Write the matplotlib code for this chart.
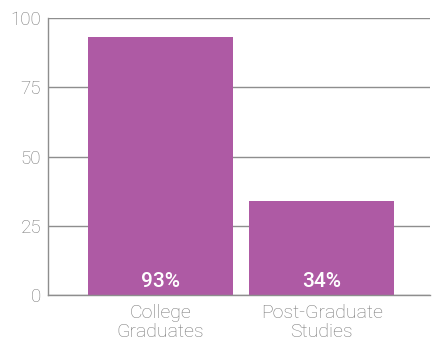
import matplotlib
matplotlib.use("Agg")
import matplotlib.pyplot as plt

categories = ["College\nGraduates", "Post-Graduate\nStudies"]
values = [93, 34]
value_labels = ["93%", "34%"]
yticks = [0, 25, 50, 75, 100]

bar_color = "#ae5aa4"
grid_color = "#8e8e8e"
text_color = "#777777"

plt.rcParams["font.family"] = ["Roboto", "DejaVu Sans"]

fig = plt.figure(figsize=(4.42, 3.44), dpi=100)
ax = fig.add_axes([0.1086, 0.141, 0.8644, 0.808])

x = list(range(len(categories)))
ax.bar(x, values, width=0.9, color=bar_color, zorder=2)

for xi, lab in zip(x, value_labels):
    ax.text(xi, 5, lab, ha="center", va="center", color="white",
            fontsize=15, fontweight="medium", zorder=3)

ax.set_ylim(0, 100)
ax.set_xlim(-0.7, 1.674)
ax.set_yticks(yticks)
ax.set_yticklabels([str(t) for t in yticks], fontsize=13.5,
                   color=text_color, fontweight="light")
ax.set_xticks(x)
ax.set_xticklabels(categories, fontsize=14, color=text_color,
                   fontweight="light", linespacing=1.1)

ax.tick_params(axis="both", length=0)
ax.tick_params(axis="y", pad=5)
ax.tick_params(axis="x", pad=6)

ax.yaxis.grid(True, color=grid_color, linewidth=1.0, zorder=0)
ax.set_axisbelow(True)

for side in ["top", "right"]:
    ax.spines[side].set_visible(False)
ax.spines["left"].set_color(grid_color)
ax.spines["bottom"].set_color(grid_color)
ax.spines["left"].set_linewidth(1.0)
ax.spines["bottom"].set_linewidth(1.0)

fig.savefig("out.png", dpi=100, facecolor="white")
